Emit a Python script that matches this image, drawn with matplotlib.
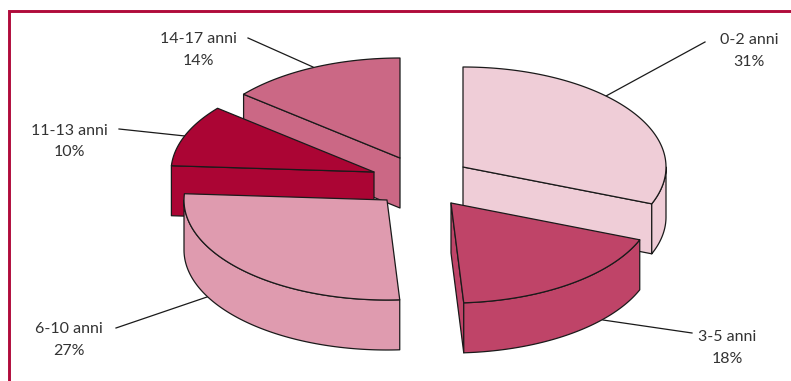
import numpy as np
import matplotlib
matplotlib.use('Agg')
import matplotlib.pyplot as plt
from matplotlib.patches import Polygon

# pie data, clockwise from 12 o'clock
ages = ['0-2 anni', '3-5 anni', '6-10 anni', '11-13 anni', '14-17 anni']
percent = [31, 18, 27, 10, 14]
colors = ['#EFCDD7', '#BF4468', '#DF9BAF', '#AB0534', '#CB6885']

# layout in pixels of the 791x381 picture
centers = [(463, 167), (451, 203), (387, 200), (374, 172), (400, 158)]
label_pos = [(749, 51), (727, 348), (69, 340), (69, 141.5), (198, 50)]
leaders = [((705, 42), (606, 96)), ((692, 333), (603, 320)), ((116, 328), (207, 297)),
           ((119, 129), (185, 136)), ((248, 38), (313, 67))]
draw_order = [4, 0, 3, 2, 1]
rx, ry, depth = 203, 100, 50
frame_color = '#B00B3B'
edge = '#1a1a1a'


def rim(cx, cy, start, end):
    # points on the ellipse, angles in degrees clockwise from the top
    t = np.radians(np.linspace(start, end, 120))
    return np.column_stack([cx + rx * np.sin(t), cy - ry * np.cos(t)])


def face(ax, pts, color, z):
    ax.add_patch(Polygon(pts, closed=True, facecolor=color, edgecolor=edge,
                         linewidth=0.9, joinstyle='round', zorder=z))


def draw_slice(ax, i, start, end, z):
    cx, cy = centers[i]
    color = colors[i]
    drop = np.array([0, depth])
    # cut faces, only those turned to the viewer
    for ang, visible in ((start, np.sin(np.radians(start)) < -1e-6),
                         (end, np.sin(np.radians(end)) > 1e-6)):
        if visible:
            p = rim(cx, cy, ang, ang)[0]
            c = np.array([cx, cy])
            face(ax, [c, p, p + drop, c + drop], color, z)
    # outer wall, front half of the ellipse only
    a, b = max(start, 90), min(end, 270)
    if b > a:
        top = rim(cx, cy, a, b)
        face(ax, np.vstack([top, (top + drop)[::-1]]), color, z)
    face(ax, np.vstack([[(cx, cy)], rim(cx, cy, start, end)]), color, z)


fig = plt.figure(figsize=(7.91, 3.81), dpi=100)
ax = fig.add_axes([0, 0, 1, 1])
ax.set_xlim(0, 791)
ax.set_ylim(381, 0)
ax.axis('off')

# frame, top and left only
ax.plot([8.7, 8.7, 791], [381, 11.2, 11.2], color=frame_color, linewidth=2.1,
        solid_joinstyle='miter', zorder=1)

for (p0, p1) in leaders:
    ax.plot([p0[0], p1[0]], [p0[1], p1[1]], color=edge, linewidth=0.9, zorder=2)

bounds = np.cumsum([0] + percent) * 3.6
for z, i in enumerate(draw_order):
    draw_slice(ax, i, bounds[i], bounds[i + 1], 3 + z)

for i, age in enumerate(ages):
    ax.text(label_pos[i][0], label_pos[i][1], age + '\n' + str(percent[i]) + '%',
            ha='center', va='center', family='Lato', fontsize=11.5,
            color='#333333', linespacing=1.65, zorder=10)

fig.savefig('out.png', dpi=100)
